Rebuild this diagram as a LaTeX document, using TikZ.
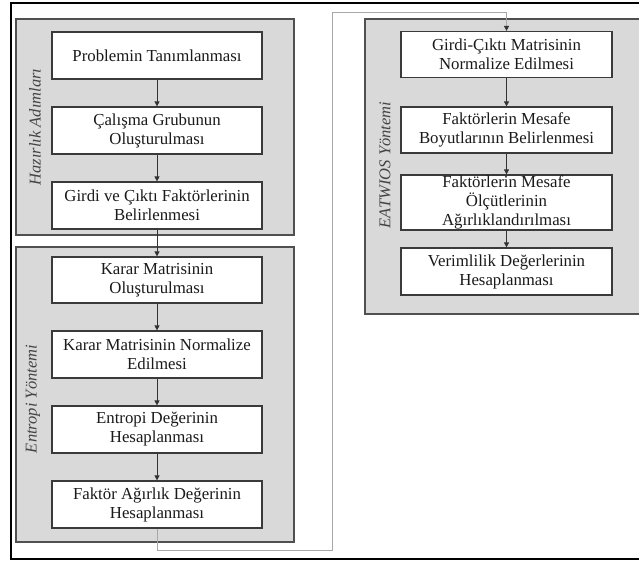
\documentclass[tikz,border=0pt]{standalone}
\usepackage{fontspec}
\setmainfont{Liberation Serif}
\usetikzlibrary{arrows.meta}
\definecolor{panelfill}{HTML}{D9D9D9}
\definecolor{panelline}{HTML}{505050}
\definecolor{boxline}{HTML}{3A3A3A}
\definecolor{arrowline}{HTML}{333333}
\definecolor{linkline}{HTML}{A8A8A8}
\definecolor{labeltext}{HTML}{444444}
\definecolor{boxtext}{HTML}{1A1A1A}
\tikzset{
  panel/.style={draw=panelline, fill=panelfill, line width=1.4pt, inner sep=0pt},
  stepbox/.style={draw=boxline, fill=white, line width=1.2pt, align=center, text=boxtext,
    inner sep=0pt, minimum width=210pt, font=\fontsize{16.8}{19}\selectfont},
  plabel/.style={rotate=90, text=labeltext, font=\fontsize{16.5}{19}\selectfont\itshape},
  flow/.style={draw=arrowline, line width=0.7pt, -{Triangle[length=5pt,width=5pt]}},
  link/.style={draw=linkline, line width=1pt, -{Triangle[length=5pt,width=5pt,color=arrowline]}},
  frame/.style={draw=black, line width=1.2pt}
}
\begin{document}
\begin{tikzpicture}[x=1pt, y=-1pt]
\useasboundingbox (0,0) rectangle (639,563);
% outer frame (right side cut off)
\draw[frame] (639,3) -- (11,3) -- (11,559) -- (639,559);
% panels
\node[panel, minimum width=278pt, minimum height=216pt] (p1) at (155,127) {};
\node[panel, minimum width=278pt, minimum height=295pt] (p2) at (155,394.5) {};
\fill[panelfill] (365,19) rectangle (639,314);
\draw[panelline, line width=1.4pt] (639,19) -- (365,19) -- (365,314) -- (639,314);
\coordinate (p3) at (365,19);
% panel labels
\node[plabel] (l1) at (35,127) {Hazırlık Adımları};
\node[plabel] (l2) at (33,399) {Entropi Yöntemi};
\node[plabel] (l3) at (385,165) {EATWIOS Yöntemi};
% left boxes
\node[stepbox, minimum height=47pt] (a1) at (157,55.5) {Problemin Tanımlanması};
\node[stepbox, minimum height=47pt] (a2) at (157,130.5) {Çalışma Grubunun\\Oluşturulması};
\node[stepbox, minimum height=47pt] (a3) at (157,205.5) {Girdi ve Çıktı Faktörlerinin\\Belirlenmesi};
\node[stepbox, minimum height=46pt] (b1) at (157,280) {Karar Matrisinin\\Oluşturulması};
\node[stepbox, minimum height=47pt] (b2) at (157,354.5) {Karar Matrisinin Normalize\\Edilmesi};
\node[stepbox, minimum height=47pt] (b3) at (157,429.5) {Entropi Değerinin\\Hesaplanması};
\node[stepbox, minimum height=47pt] (b4) at (157,504.5) {Faktör Ağırlık Değerinin\\Hesaplanması};
% right boxes
\node[stepbox, minimum width=211pt, minimum height=46pt] (c1) at (506.5,54.5) {Girdi-Çıktı Matrisinin\\Normalize Edilmesi};
\node[stepbox, minimum width=211pt, minimum height=46pt] (c2) at (506.5,130) {Faktörlerin Mesafe\\Boyutlarının Belirlenmesi};
\node[stepbox, minimum width=211pt, minimum height=55pt] (c3) at (506.5,202.5) {Faktörlerin Mesafe\\Ölçütlerinin\\Ağırlıklandırılması};
\node[stepbox, minimum width=211pt, minimum height=47pt] (c4) at (506.5,271.5) {Verimlilik Değerlerinin\\Hesaplanması};
% arrows
\draw[flow] (a1) -- (a2);
\draw[flow] (a2) -- (a3);
\draw[flow] (a3) -- (b1);
\draw[flow] (b1) -- (b2);
\draw[flow] (b2) -- (b3);
\draw[flow] (b3) -- (b4);
\draw[flow] (c1) -- (c2);
\draw[flow] (c2) -- (c3);
\draw[flow] (c3) -- (c4);
% link from left column to right column
\coordinate (k1) at (157,550);
\coordinate (k2) at (332,550);
\coordinate (k3) at (332,12);
\coordinate (k4) at (506.5,12);
\draw[link] (b4.south) -- (k1) -- (k2) -- (k3) -- (k4) -- (c1.north);
\end{tikzpicture}
\end{document}
